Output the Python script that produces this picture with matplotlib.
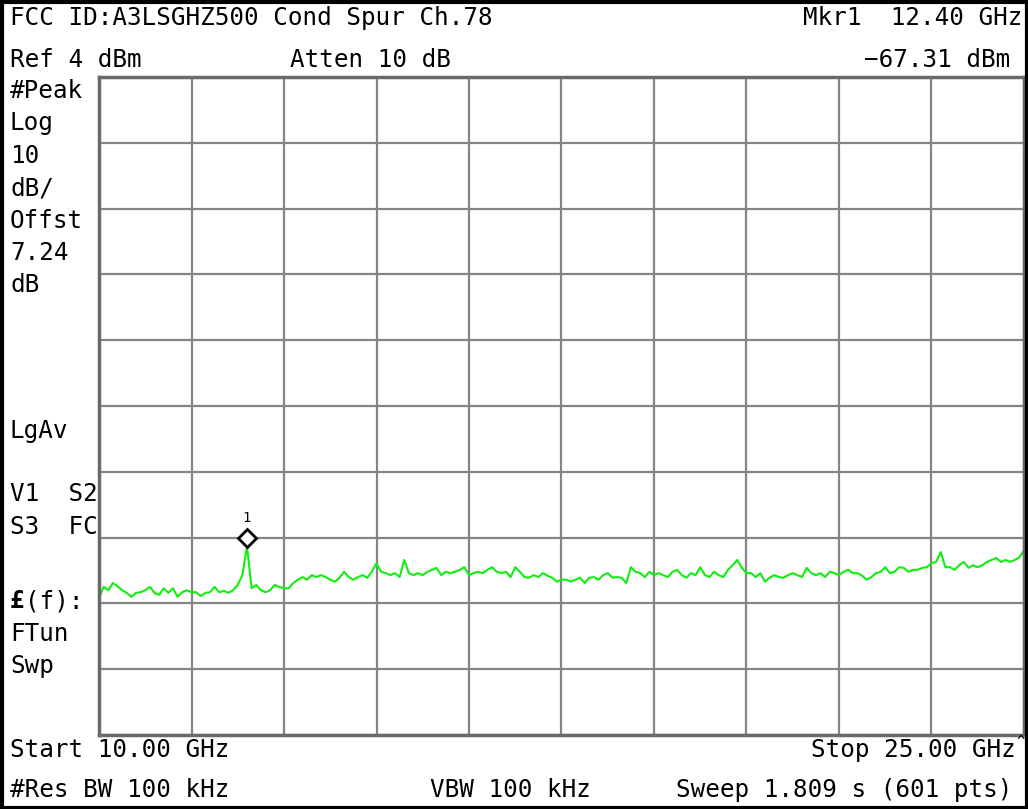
import numpy as np
import matplotlib.pyplot as plt
from matplotlib.transforms import offset_copy
from matplotlib.patches import Rectangle

# sweep settings
start_ghz = 10.0
stop_ghz = 25.0
ref_dbm = 4.0
db_per_div = 10.0
mkr_freq = 12.40
mkr_level = -67.31

# trace levels (dBm), every 0.075 GHz
levels = [
    -75.2, -73.5, -74.0, -72.9, -73.4, -74.0, -74.4, -75.0, -74.4, -74.3,
    -74.0, -73.5, -74.4, -74.7, -73.7, -74.4, -73.7, -75.0, -74.3, -74.0,
    -74.3, -74.3, -74.9, -74.4, -74.3, -73.5, -74.3, -74.1, -74.4, -74.0,
    -73.2, -71.7, -67.31, -73.7, -73.2, -74.0, -74.3, -74.0, -73.2, -73.5,
    -73.7, -73.7, -72.9, -72.4, -72.0, -72.4, -71.7, -72.0, -71.7, -72.0,
    -72.4, -72.7, -72.1, -71.2, -72.0, -72.4, -72.0, -71.7, -72.1, -71.2,
    -69.9, -71.2, -71.4, -71.7, -71.4, -72.0, -69.4, -71.4, -71.7, -71.4,
    -71.7, -71.2, -70.9, -70.6, -71.7, -71.2, -71.4, -71.2, -70.9, -70.5,
    -71.7, -71.4, -71.2, -71.4, -70.9, -70.5, -71.2, -71.4, -71.2, -72.0,
    -70.5, -71.2, -72.0, -72.1, -71.7, -72.0, -71.4, -71.8, -72.1, -72.7,
    -72.4, -72.4, -72.7, -72.4, -72.1, -72.9, -72.1, -72.0, -72.4, -71.7,
    -71.4, -72.1, -72.0, -72.1, -72.9, -70.5, -71.2, -71.4, -72.0, -71.2,
    -71.7, -71.4, -71.7, -72.0, -71.2, -70.9, -71.7, -72.1, -71.4, -71.7,
    -70.5, -71.7, -72.0, -71.2, -71.7, -72.0, -70.9, -70.2, -69.4, -70.6,
    -71.4, -71.4, -72.0, -71.4, -72.7, -72.1, -71.7, -72.0, -72.1, -71.7,
    -71.4, -71.7, -72.0, -70.6, -71.4, -71.7, -71.4, -72.0, -71.2, -71.4,
    -71.7, -71.2, -70.9, -71.4, -71.4, -71.8, -72.4, -72.0, -71.4, -71.2,
    -70.5, -71.4, -71.2, -70.5, -70.6, -71.2, -70.9, -70.9, -70.6, -70.5,
    -69.9, -69.7, -68.2, -70.5, -70.5, -70.9, -70.2, -69.7, -70.6, -70.2,
    -70.5, -70.2, -69.7, -69.4, -69.1, -69.7, -69.4, -69.7, -69.4, -69.0,
    -67.9,
]
freqs = np.linspace(start_ghz, stop_ghz, len(levels))

W, H = 1028, 809
fig = plt.figure(figsize=(W / 100, H / 100), dpi=100)
fig.patch.set_facecolor('white')

ax = fig.add_axes([99 / W, 1 - 735 / H, 925 / W, 658 / H])
ax.plot(freqs, levels, color='#11ee11', lw=1.5)
ax.set_xlim(start_ghz, stop_ghz)
ax.set_ylim(ref_dbm - 10 * db_per_div, ref_dbm)
ax.set_xticks(np.linspace(start_ghz, stop_ghz, 11))
ax.set_yticks(np.arange(ref_dbm - 100, ref_dbm + 1, db_per_div))
ax.grid(True, color='#858585', lw=1.6)
ax.tick_params(length=0, labelbottom=False, labelleft=False)
for s in ax.spines.values():
    s.set_color('#6a6a6a')
    s.set_linewidth(2.5)

# marker 1 sits just above the peak
trans = offset_copy(ax.transData, fig=fig, x=0, y=8, units='dots')
ax.plot([mkr_freq], [mkr_level], marker='D', ms=9, mfc='white', mec='black',
        mew=2, transform=trans, clip_on=False)
ax.annotate('1', (mkr_freq, mkr_level), xytext=(0, 28), textcoords='offset pixels',
            ha='center', va='center', fontsize=10, family='DejaVu Sans Mono')


def label(x, y, s, ha='left', **kw):
    fig.text(x / W, 1 - y / H, s, ha=ha, va='center', fontsize=17.5,
             family='DejaVu Sans Mono', **kw)


label(10, 18, 'FCC ID:A3LSGHZ500 Cond Spur Ch.78')
label(1022, 18, 'Mkr1  12.40 GHz', ha='right')
label(10, 60, 'Ref 4 dBm')
label(290, 60, 'Atten 10 dB')
label(1010, 60, '\u221267.31 dBm', ha='right')

left_col = [(91, '#Peak'), (123, 'Log'), (156, '10'), (188, 'dB/'),
            (221, 'Offst'), (253, '7.24'), (285, 'dB'), (431, 'LgAv'),
            (494, 'V1  S2'), (527, 'S3  FC'), (634, 'FTun'), (666, 'Swp')]
for y, s in left_col:
    label(10, y, s)
label(10, 601, '\u00a3', fontweight='bold')
label(25, 601, '(f):')

label(10, 750, 'Start 10.00 GHz')
label(1016, 750, 'Stop 25.00 GHz', ha='right')
fig.text(1021 / W, 1 - 742 / H, '^', ha='center', va='center', fontsize=10,
         family='DejaVu Sans Mono')
label(10, 790, '#Res BW 100 kHz')
label(430, 790, 'VBW 100 kHz')
label(1012, 790, 'Sweep 1.809 s (601 pts)', ha='right')

# outer screen frame
fig.patches.append(Rectangle((1.5 / W, 1.5 / H), 1 - 3 / W, 1 - 3 / H,
                             transform=fig.transFigure, fill=False,
                             ec='black', lw=3))

fig.savefig('out.png', dpi=100)
